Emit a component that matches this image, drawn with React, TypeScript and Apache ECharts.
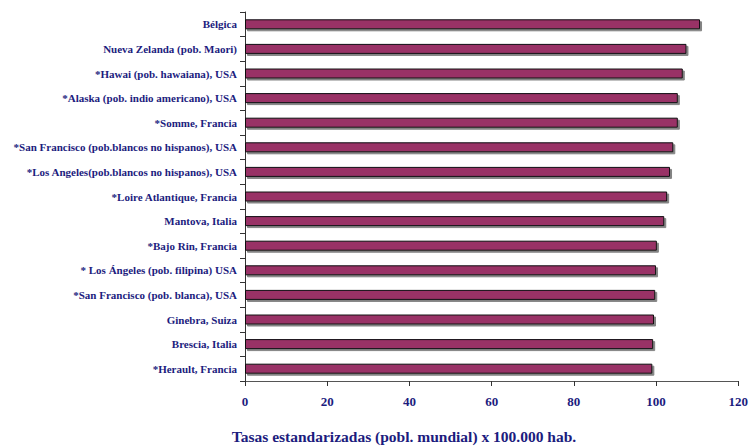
import React, { useEffect, useRef } from "react";
import * as echarts from "echarts";

const categories = [
  "Bélgica",
  "Nueva Zelanda (pob. Maori)",
  "*Hawai (pob. hawaiana), USA",
  "*Alaska (pob. indio americano), USA",
  "*Somme, Francia",
  "*San Francisco (pob.blancos no hispanos), USA",
  "*Los Angeles(pob.blancos no hispanos), USA",
  "*Loire Atlantique, Francia",
  "Mantova, Italia",
  "*Bajo Rin, Francia",
  "* Los Ángeles (pob. filipina) USA",
  "*San Francisco (pob. blanca), USA",
  "Ginebra, Suiza",
  "Brescia, Italia",
  "*Herault, Francia",
];

const values = [110.7, 107.4, 106.5, 105.3, 105.3, 104.2, 103.4, 102.7, 102.0, 100.2, 100.0, 99.8, 99.5, 99.3, 99.1];

const xTicks = [0, 20, 40, 60, 80, 100, 120];
const axisTitle = "Tasas estandarizadas (pobl. mundial) x 100.000 hab.";

const NAVY = "#1c1c7e";
const FONT = "Liberation Serif";

export default function App() {
  const ref = useRef<HTMLDivElement>(null);
  useEffect(() => {
    if (!ref.current) return;
    const chart = echarts.init(ref.current, undefined, { renderer: "svg" });
    chart.setOption({
      animation: false,
      backgroundColor: "#ffffff",
      grid: { left: 245, right: 9, top: 12, bottom: 65, containLabel: false },
      xAxis: {
        type: "value",
        min: xTicks[0],
        max: xTicks[xTicks.length - 1],
        interval: 20,
        splitLine: { show: false },
        axisLine: { show: true, lineStyle: { color: "#555", width: 1 } },
        axisTick: { show: true, length: 5, lineStyle: { color: "#333" } },
        axisLabel: {
          margin: 14,
          color: NAVY,
          fontFamily: FONT,
          fontWeight: "bold",
          fontSize: 13,
        },
      },
      yAxis: {
        type: "category",
        data: categories,
        inverse: true,
        axisLine: { show: true, lineStyle: { color: "#333", width: 1 } },
        axisTick: { show: true, length: 5, lineStyle: { color: "#333" } },
        axisLabel: {
          margin: 8,
          color: NAVY,
          fontFamily: FONT,
          fontWeight: "bold",
          fontSize: 11,
        },
      },
      graphic: [
        {
          type: "text",
          x: 404,
          y: 436,
          style: {
            text: axisTitle,
            fill: NAVY,
            fontFamily: FONT,
            fontWeight: "bold",
            fontSize: 15.5,
            align: "center",
            verticalAlign: "middle",
          },
        },
      ],
      series: [
        {
          type: "bar",
          data: values,
          barWidth: 10,
          itemStyle: {
            color: "#993366",
            borderColor: "#111",
            borderWidth: 1,
            shadowColor: "rgba(90,90,90,0.75)",
            shadowOffsetX: 2,
            shadowOffsetY: 2,
            shadowBlur: 0,
          },
        },
      ],
    });
    return () => chart.dispose();
  }, []);
  return <div ref={ref} style={{ width: 751, height: 446, position: "absolute", left: 0, top: 0 }} />;
}
